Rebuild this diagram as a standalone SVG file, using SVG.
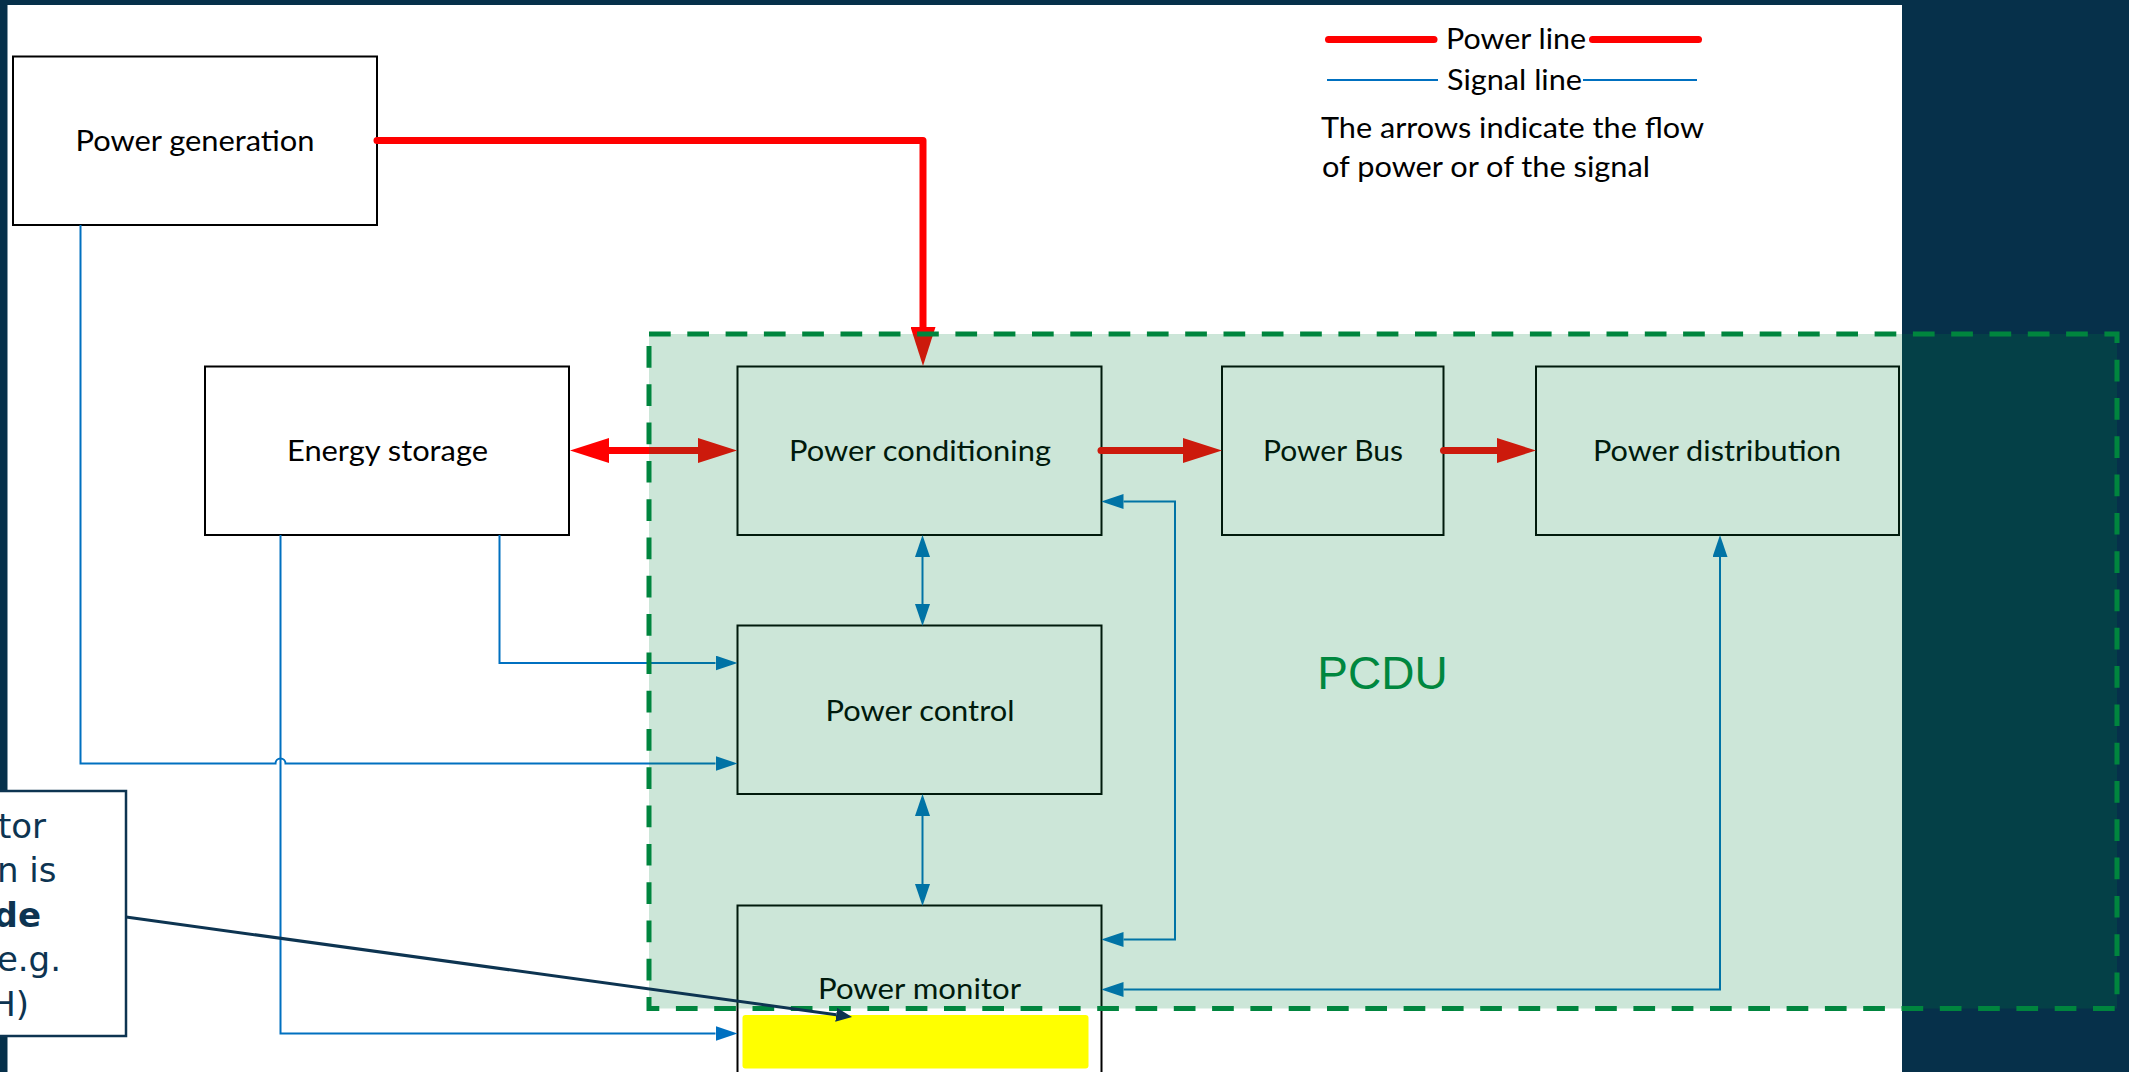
<svg xmlns="http://www.w3.org/2000/svg" width="2129" height="1072" viewBox="0 0 2129 1072">
<defs>
<style>
.box{fill:#fff;stroke:#000;stroke-width:2}
.lbl{font-family:Lato,"Open Sans","Liberation Sans",sans-serif;font-size:29px;fill:#000;text-anchor:middle}
.leg{font-family:Lato,"Open Sans","Liberation Sans",sans-serif;font-size:29px;fill:#000}
.pw{fill:none;stroke:#f00;stroke-width:7;stroke-linecap:round;stroke-linejoin:round}
.sg{fill:none;stroke:#0070C0;stroke-width:2}
.co{font-family:"DejaVu Sans",sans-serif;font-size:34px;fill:#0D3451;text-anchor:end}
</style>
<marker id="ar" markerUnits="userSpaceOnUse" viewBox="0 0 39 25" markerWidth="39" markerHeight="25" refX="0" refY="12.5" orient="auto-start-reverse"><path d="M0,0 L39,12.5 L0,25 z" fill="#f00"/></marker>
<marker id="ab" markerUnits="userSpaceOnUse" viewBox="0 0 22 15" markerWidth="22" markerHeight="15" refX="0" refY="7.5" orient="auto-start-reverse"><path d="M0,0 L22,7.5 L0,15 z" fill="#0070C0"/></marker>
<marker id="an" markerUnits="userSpaceOnUse" viewBox="0 0 16 14" markerWidth="16" markerHeight="14" refX="0" refY="7" orient="auto"><path d="M0,0 L16,7 L0,14 z" fill="#0D3451"/></marker>
</defs>
<rect x="0" y="0" width="2129" height="1072" fill="#06304A"/>
<rect x="7.5" y="5" width="1894.5" height="1067" fill="#fff"/>

<g id="legend">
<path d="M1328.5,39.5 H1434" class="pw"/>
<path d="M1592.5,39.5 H1698.5" class="pw"/>
<text x="1446" y="49" class="leg" textLength="140" lengthAdjust="spacingAndGlyphs">Power line</text>
<path d="M1327,80 H1438 M1583,80 H1697" class="sg"/>
<text x="1447" y="90" class="leg" textLength="135" lengthAdjust="spacingAndGlyphs">Signal line</text>
<text x="1321" y="138" class="leg" textLength="383" lengthAdjust="spacingAndGlyphs">The arrows indicate the flow</text>
<text x="1322" y="177" class="leg" textLength="328" lengthAdjust="spacingAndGlyphs">of power or of the signal</text>
</g>

<g id="power-generation">
<rect x="13" y="56.5" width="364" height="168.5" class="box"/>
<text x="195" y="151" class="lbl" textLength="239" lengthAdjust="spacingAndGlyphs">Power generation</text>
</g>
<g id="energy-storage">
<rect x="205" y="366.5" width="364" height="168.5" class="box"/>
<text x="387.5" y="461" class="lbl" textLength="201" lengthAdjust="spacingAndGlyphs">Energy storage</text>
</g>
<g id="power-conditioning">
<rect x="737.5" y="366.5" width="364" height="168.5" class="box"/>
<text x="920" y="461" class="lbl" textLength="262" lengthAdjust="spacingAndGlyphs">Power conditioning</text>
</g>
<g id="power-bus">
<rect x="1222" y="366.5" width="221.5" height="168.5" class="box"/>
<text x="1333" y="461" class="lbl" textLength="140" lengthAdjust="spacingAndGlyphs">Power Bus</text>
</g>
<g id="power-distribution">
<rect x="1536" y="366.5" width="363" height="168.5" class="box"/>
<text x="1717" y="461" class="lbl" textLength="248" lengthAdjust="spacingAndGlyphs">Power distribution</text>
</g>
<g id="power-control">
<rect x="737.5" y="625.5" width="364" height="168.5" class="box"/>
<text x="920" y="721" class="lbl" textLength="189" lengthAdjust="spacingAndGlyphs">Power control</text>
</g>
<g id="power-monitor">
<rect x="737.5" y="905.5" width="364" height="200" class="box"/>
<text x="919.5" y="999" class="lbl" textLength="203" lengthAdjust="spacingAndGlyphs">Power monitor</text>
</g>

<g id="connectors">
<path d="M377,140.5 H923 V327" class="pw" marker-end="url(#ar)"/>
<path d="M609,450.5 H698" class="pw" marker-start="url(#ar)" marker-end="url(#ar)"/>
<path d="M1101,450.5 H1183" class="pw" marker-end="url(#ar)"/>
<path d="M1443.5,450.5 H1497" class="pw" marker-end="url(#ar)"/>
<path d="M922.5,557 V604" class="sg" marker-start="url(#ab)" marker-end="url(#ab)"/>
<path d="M922.5,816 V884" class="sg" marker-start="url(#ab)" marker-end="url(#ab)"/>
<path d="M499.5,535 V663 H715.5" class="sg" marker-end="url(#ab)"/>
<path d="M80.5,225 V763.5 H275.5 A5,5 0 0 1 285.5,763.5 H715.5" class="sg" marker-end="url(#ab)"/>
<path d="M280.5,535 V1033.5 H715.5" class="sg" marker-end="url(#ab)"/>
<path d="M1123.5,501.5 H1175 V939.5 H1123.5" class="sg" marker-start="url(#ab)" marker-end="url(#ab)"/>
<path d="M1123.5,989.5 H1720 V557" class="sg" marker-start="url(#ab)" marker-end="url(#ab)"/>
</g>

<g id="pcdu">
<rect x="649" y="334" width="1468" height="674.5" fill="#00843D" fill-opacity="0.2" stroke="#00853E" stroke-width="5" stroke-dasharray="21.7 16.6"/>
<text x="1382.5" y="689" font-family="'Liberation Sans',Arial,sans-serif" font-size="46" fill="#00873F" text-anchor="middle">PCDU</text>
</g>

<rect id="highlight" x="742.5" y="1015" width="346" height="53.5" rx="3" fill="#ff0"/>

<g id="callout">
<rect x="-10" y="791" width="136" height="245" fill="#fff" stroke="#0D3451" stroke-width="2.5"/>
<text x="46" y="838" class="co">tor</text>
<text x="56.5" y="882" class="co">n is</text>
<text x="41" y="926.5" class="co" font-weight="bold">de</text>
<text x="61" y="971" class="co">e.g.</text>
<text x="29" y="1015.5" class="co">H)</text>
<path d="M126,917 L836.2,1014.8" fill="none" stroke="#0D3451" stroke-width="3" marker-end="url(#an)"/>
</g>
</svg>
